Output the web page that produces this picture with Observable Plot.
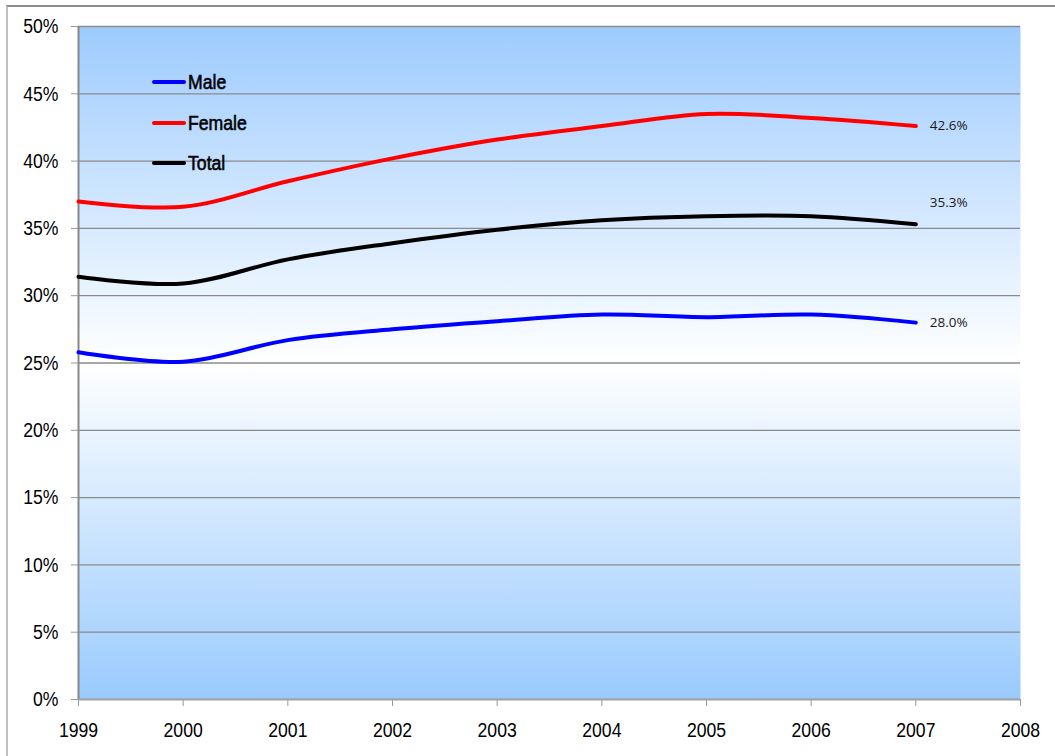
<!DOCTYPE html>
<html>
<head>
<meta charset="utf-8">
<script src="https://cdn.jsdelivr.net/npm/d3@7"></script>
<script src="https://cdn.jsdelivr.net/npm/@observablehq/plot@0.6"></script>
<style>
  html, body { margin: 0; padding: 0; background: #fff; }
  #wrap { position: relative; width: 1055px; height: 756px; overflow: hidden; }
  #frame { position: absolute; left: 6px; top: 5px; width: 1100px; height: 800px;
           border-top: 2px solid #8c8c8c; border-left: 2px solid #c0c0c0; pointer-events: none; }
  #legend { position: absolute; left: 152px; top: 0; font-family: "Liberation Sans", sans-serif;
            font-size: 21px; color: #000; }
  .item { position: absolute; left: 0; white-space: nowrap; height: 24px; line-height: 24px; }
  .item span.sw { position: absolute; left: 0; top: 10px; width: 34px; height: 4px; border-radius: 2px; }
  .item span.lb { position: absolute; left: 36px; top: 0; display: inline-block; transform: scaleX(0.84); transform-origin: 0 50%;
                  -webkit-text-stroke: 0.6px #000; }
</style>
</head>
<body>
<div id="wrap">
  <div id="chart"></div>
  <div id="frame"></div>
  <div id="legend"></div>
</div>
<script>
const years = [1999, 2000, 2001, 2002, 2003, 2004, 2005, 2006, 2007];
const male   = [25.8, 25.1, 26.7, 27.5, 28.1, 28.6, 28.4, 28.6, 28.0];
const female = [37.0, 36.6, 38.5, 40.2, 41.6, 42.6, 43.5, 43.2, 42.6];
const total  = [31.4, 30.9, 32.7, 33.9, 34.9, 35.6, 35.9, 35.9, 35.3];
const seriesNames = ["Male", "Female", "Total"];
const seriesColors = ["#0000ff", "#ff0000", "#000000"];
const endLabels = ["28.0%", "42.6%", "35.3%"];
const xTicks = [1999, 2000, 2001, 2002, 2003, 2004, 2005, 2006, 2007, 2008];
const yTicks = [0, 5, 10, 15, 20, 25, 30, 35, 40, 45, 50];

const seriesValues = [male, female, total];
const rows = [];
seriesNames.forEach((s, i) => years.forEach((y, j) => rows.push({series: s, year: y, value: seriesValues[i][j]})));
const ends = seriesNames.map((s, i) => ({series: s, year: years[years.length - 1], value: seriesValues[i][years.length - 1], label: endLabels[i]}));
const labelShift = {Male: 0, Female: 0, Total: -22};

const tickFont = `"Liberation Sans", sans-serif`;
const labelFont = `"Open Sans", "Noto Sans", sans-serif`;

const defs = () => {
  const g = d3.create("svg:defs");
  const lg = g.append("linearGradient").attr("id", "bg").attr("x1", 0).attr("y1", 0).attr("x2", 0).attr("y2", 1);
  lg.append("stop").attr("offset", "0%").attr("stop-color", "#9dcbfe");
  lg.append("stop").attr("offset", "50%").attr("stop-color", "#ffffff");
  lg.append("stop").attr("offset", "100%").attr("stop-color", "#99cafe");
  return g.node();
};

const chart = Plot.plot({
  width: 1055,
  height: 756,
  marginLeft: 78,
  marginRight: 35,
  marginTop: 26,
  marginBottom: 57,
  style: { fontFamily: tickFont, fontSize: "21px", color: "#000", background: "transparent" },
  x: { domain: [1999, 2008], label: null },
  y: { domain: [0, 50], label: null },
  color: { domain: seriesNames, range: seriesColors },
  marks: [
    defs,
    Plot.frame({ fill: "url(#bg)", stroke: "none" }),
    Plot.gridY(yTicks, { stroke: "#8a8a8a", strokeOpacity: 1, strokeWidth: 1.3 }),
    Plot.axisY({ ticks: yTicks, tickFormat: d => d + "%", tickSize: 7, tickPadding: 13, stroke: "#999",
      fontSize: 21, fill: "#000" }),
    Plot.axisX({ ticks: xTicks, tickFormat: d => String(d), tickSize: 7, tickPadding: 16, stroke: "#999",
      fontSize: 21, fill: "#000" }),
    Plot.ruleX([1999], { stroke: "#888", strokeWidth: 2 }),
    Plot.ruleY([0], { stroke: "#a0a0a0", strokeWidth: 1.5 }),
    Plot.lineY(rows, { x: "year", y: "value", z: "series", stroke: "series", strokeWidth: 4, curve: "catmull-rom" }),
    Plot.text(ends.filter(d => labelShift[d.series] === 0), { x: "year", y: "value", text: "label", textAnchor: "start", dx: 14,
      fontFamily: labelFont, fontSize: 13.5, fill: "#1a1a1a" }),
    Plot.text(ends.filter(d => labelShift[d.series] !== 0), { x: "year", y: "value", text: "label", textAnchor: "start", dx: 14, dy: -22,
      fontFamily: labelFont, fontSize: 13.5, fill: "#1a1a1a" })
  ]
});
document.getElementById("chart").appendChild(chart);

// condense the axis tick labels horizontally (narrow face look)
d3.select(chart).selectAll("text").each(function () {
  const t = this.textContent;
  if (!/^(\d{4}|\d{1,2}%)$/.test(t)) return;
  const el = d3.select(this);
  el.style("-webkit-text-stroke", "0.6px #000");
  let tr = el.attr("transform");
  if (!tr) {
    const x = +(el.attr("x") || 0), y = +(el.attr("y") || 0);
    el.attr("x", null).attr("y", null);
    tr = `translate(${x},${y})`;
  }
  el.attr("transform", tr + " scale(0.84,1)");
});

// legend inside the plot area (HTML overlay)
const legendTops = [70, 111, 151];
const legend = document.getElementById("legend");
seriesNames.forEach((s, i) => {
  const item = document.createElement("div");
  item.className = "item";
  item.style.top = legendTops[i] + "px";
  item.innerHTML = `<span class="sw" style="background:${seriesColors[i]}"></span><span class="lb">${s}</span>`;
  legend.appendChild(item);
});
</script>
</body>
</html>
